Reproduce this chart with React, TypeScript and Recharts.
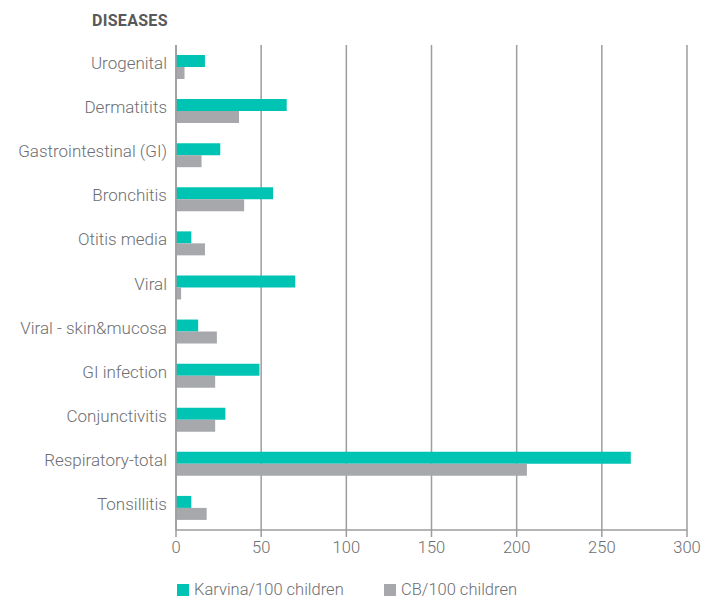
import { BarChart, Bar, XAxis, YAxis, CartesianGrid } from "recharts";

const diseases = [
  "Urogenital",
  "Dermatitits",
  "Gastrointestinal (GI)",
  "Bronchitis",
  "Otitis media",
  "Viral",
  "Viral - skin&mucosa",
  "GI infection",
  "Conjunctivitis",
  "Respiratory-total",
  "Tonsillitis",
];
const karvina = [17, 65, 26, 57, 9, 70, 13, 49, 29, 267, 9];
const cb = [5, 37, 15, 40, 17, 3, 24, 23, 23, 206, 18];
const xTicks = [0, 50, 100, 150, 200, 250, 300];

const TEAL = "#00c4b3";
const GREY = "#a7a8ab";
const TEXT = "#6d6e71";
const FONT = "Roboto, 'Open Sans', sans-serif";

const data = diseases.map((name, i) => ({
  name,
  karvina: karvina[i],
  cb: cb[i],
}));

function LegendBox() {
  const items = [
    { label: "Karvina/100 children", color: TEAL, width: 207 },
    { label: "CB/100 children", color: GREY, width: 150 },
  ];
  return (
    <div
      style={{
        position: "absolute",
        left: 177,
        top: 582,
        height: 16,
        display: "flex",
        fontFamily: FONT,
        fontWeight: 300,
        fontSize: 16.5,
        lineHeight: "16px",
        color: TEXT,
      }}
    >
      {items.map((it) => (
        <div key={it.label} style={{ display: "flex", alignItems: "center", width: it.width }}>
          <span style={{ width: 12, height: 12, background: it.color, marginRight: 5, display: "inline-block" }} />
          {it.label}
        </div>
      ))}
    </div>
  );
}

export default function App() {
  return (
    <div style={{ position: "absolute", left: 0, top: 0, width: 715, height: 599, background: "#fff" }}>
      <div
        style={{
          position: "absolute",
          left: 92,
          top: 11,
          fontFamily: FONT,
          fontWeight: 700,
          fontSize: 16,
          color: "#58595b",
          letterSpacing: 0.3,
        }}
      >
        DISEASES
      </div>
      <BarChart
        width={715}
        height={599}
        data={data}
        layout="vertical"
        margin={{ top: 45, right: 28, bottom: 39, left: 0 }}
        barCategoryGap={10}
        barGap={0}
      >
        <CartesianGrid horizontal={false} stroke="#9d9d9d" strokeWidth={1.5} />
        <XAxis
          type="number"
          domain={[0, 300]}
          ticks={xTicks}
          interval={0}
          height={30}
          stroke="#9d9d9d"
          strokeWidth={1.5}
          tickSize={7}
          tick={{ fill: TEXT, fontSize: 16.5, fontFamily: FONT, fontWeight: 300 }}
          tickMargin={4}
        />
        <YAxis
          type="category"
          dataKey="name"
          width={176}
          axisLine={{ stroke: "#9d9d9d", strokeWidth: 1.5 }}
          tickLine={false}
          tick={{ fill: TEXT, fontSize: 17, fontFamily: FONT, fontWeight: 300, dy: -4 }}
          tickMargin={3}
        />
        <Bar dataKey="karvina" name="Karvina/100 children" fill={TEAL} barSize={12} isAnimationActive={false} />
        <Bar dataKey="cb" name="CB/100 children" fill={GREY} barSize={12} isAnimationActive={false} />
      </BarChart>
      <LegendBox />
    </div>
  );
}
